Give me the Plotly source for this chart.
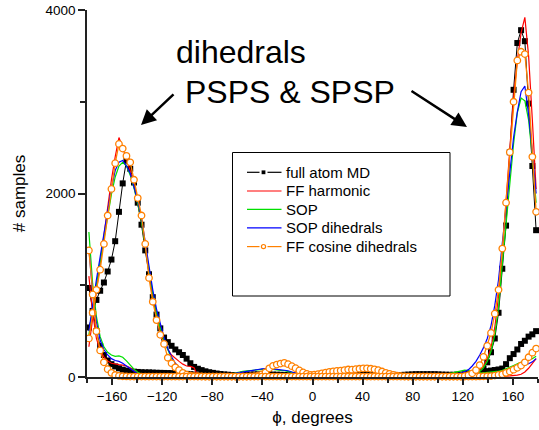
import numpy as np
import plotly.graph_objects as go

# bin centres (3 degree bins)
phi = np.arange(-178.5, 180, 3.0)

# ---------------- full atom MD ----------------
md_p = [540, 700, 840, 940, 1030, 1150, 1280, 1480, 1800, 2110,
        2360, 2270, 2120, 1900, 1660, 1380, 1120, 870, 680, 530,
        430, 380, 340, 300, 270, 240, 200, 150, 110, 90,
        75, 62, 52, 45, 38, 32, 28, 25, 22, 22,
        22, 24, 25, 26, 28, 28, 30, 30, 28, 26,
        25, 24, 22, 20, 18, 16, 15, 15, 14, 15,
        16, 18, 20, 22, 25, 28, 30, 33, 36, 40,
        42, 45, 48, 50, 50, 48, 45, 40, 35, 30,
        26, 24, 22, 22, 24, 26, 28, 30, 30, 30,
        30, 30, 30, 28, 26, 25, 24, 24, 25, 26,
        28, 32, 38, 45, 52, 58, 64, 70, 76, 82,
        92, 140, 205, 250, 300, 360, 395, 440, 465, 500]
md_s = [970, 720, 500, 340, 240, 180, 140, 115, 95, 80,
        70, 62, 58, 55, 52, 50, 50, 48, 46, 45,
        44, 43, 42, 40, 38, 36, 34, 30, 26, 22,
        18, 15, 12, 10, 10, 10, 10, 10, 10, 10,
        10, 10, 10, 10, 10, 10, 10, 10, 10, 10,
        10, 10, 10, 10, 10, 10, 10, 10, 10, 10,
        10, 10, 10, 10, 10, 10, 10, 10, 10, 10,
        10, 10, 10, 10, 10, 10, 10, 10, 10, 10,
        10, 10, 10, 10, 10, 10, 10, 10, 10, 10,
        10, 10, 10, 10, 10, 10, 10, 10, 12, 14,
        15, 20, 26, 35, 50, 90, 160, 270, 420, 700,
        1180, 1650, 2450, 3130, 3640, 3780, 3660, 2980, 2300, 1600]

# ---------------- FF harmonic ----------------
ffh_p = [330, 640, 950, 1250, 1550, 1850, 2150, 2400, 2610, 2500,
         2380, 2250, 2080, 1900, 1700, 1420, 1150, 880, 680, 520,
         400, 300, 240, 200, 170, 140, 120, 115, 100, 5,
         3, 3, 3, 3, 3, 3, 3, 3, 3, 3,
         3, 3, 3, 3, 3, 3, 3, 3, 3, 3,
         3, 3, 3, 3, 3, 3, 3, 3, 3, 3,
         3, 3, 3, 3, 3, 3, 3, 3, 3, 3,
         3, 3, 3, 3, 3, 3, 3, 3, 3, 3,
         3, 3, 3, 3, 3, 3, 3, 3, 3, 3,
         3, 3, 3, 3, 3, 3, 3, 3, 3, 3,
         3, 3, 3, 3, 3, 4, 5, 6, 7, 8,
         9, 10, 12, 15, 20, 30, 55, 95, 145, 200]
ffh_s = [1100, 700, 420, 290, 220, 175, 150, 140, 135, 130,
         120, 100, 70, 40, 20, 10, 5, 3, 3, 3,
         3, 3, 3, 3, 3, 3, 3, 3, 3, 3,
         3, 3, 3, 3, 3, 3, 3, 3, 3, 3,
         3, 3, 3, 3, 3, 3, 3, 3, 3, 3,
         3, 3, 3, 3, 3, 3, 3, 3, 3, 3,
         3, 3, 3, 3, 3, 3, 3, 3, 3, 3,
         3, 3, 3, 3, 3, 3, 3, 3, 3, 3,
         3, 3, 3, 3, 3, 3, 3, 3, 3, 3,
         3, 3, 3, 3, 3, 3, 3, 3, 3, 3,
         5, 10, 20, 40, 70, 120, 200, 320, 540, 880,
         1350, 1900, 2500, 3050, 3450, 3750, 3920, 3500, 2800, 2050]

# ---------------- SOP ----------------
sop_p = [460, 760, 1010, 1260, 1510, 1760, 1990, 2180, 2300, 2340,
         2300, 2200, 2060, 1890, 1690, 1430, 1160, 910, 700, 530,
         400, 290, 200, 140, 90, 55, 30, 18, 12, 10,
         8, 6, 5, 5, 6, 10, 18, 28, 38, 48,
         55, 62, 68, 72, 75, 78, 82, 86, 88, 82,
         74, 72, 70, 62, 50, 36, 24, 14, 8, 5,
         5, 5, 6, 8, 10, 12, 14, 16, 18, 20,
         22, 24, 25, 25, 24, 22, 20, 18, 16, 14,
         12, 10, 10, 10, 10, 12, 14, 16, 18, 20,
         22, 24, 26, 28, 30, 34, 40, 48, 58, 68,
         75, 70, 60, 50, 45, 45, 48, 52, 58, 64,
         72, 88, 105, 125, 145, 165, 178, 186, 200, 225]
sop_s = [1580, 1020, 660, 440, 330, 270, 240, 225, 230, 215,
         175, 125, 85, 52, 30, 16, 10, 6, 5, 4,
         4, 4, 4, 4, 4, 4, 4, 4, 4, 4,
         4, 4, 4, 4, 4, 4, 4, 4, 4, 4,
         4, 4, 4, 4, 4, 4, 4, 4, 4, 4,
         4, 4, 4, 4, 4, 4, 4, 4, 4, 4,
         4, 4, 4, 4, 4, 4, 4, 4, 4, 4,
         4, 4, 4, 4, 4, 4, 4, 4, 4, 4,
         4, 4, 4, 4, 4, 4, 4, 4, 4, 4,
         4, 4, 4, 4, 4, 4, 4, 4, 4, 4,
         8, 12, 20, 35, 60, 100, 170, 280, 460, 760,
         1230, 1680, 2130, 2540, 2880, 3040, 3010, 2800, 2400, 1900]

# ---------------- SOP dihedrals ----------------
sopd_p = [500, 800, 1060, 1310, 1570, 1830, 2060, 2250, 2340, 2360,
          2300, 2220, 2080, 1920, 1730, 1470, 1200, 950, 740, 570,
          430, 310, 220, 150, 100, 60, 35, 20, 12, 8,
          6, 5, 5, 6, 8, 12, 18, 26, 34, 42,
          50, 58, 64, 70, 76, 82, 88, 94, 95, 88,
          82, 80, 76, 68, 55, 40, 26, 15, 8, 5,
          5, 5, 6, 8, 10, 12, 14, 16, 18, 20,
          20, 22, 22, 22, 20, 18, 16, 14, 12, 10,
          10, 10, 10, 10, 10, 12, 14, 16, 18, 20,
          20, 22, 24, 26, 28, 30, 32, 34, 36, 38,
          38, 36, 34, 32, 30, 28, 27, 26, 28, 32,
          45, 60, 75, 90, 100, 110, 128, 145, 165, 200]
sopd_s = [1400, 910, 600, 400, 300, 240, 200, 180, 170, 150,
          120, 90, 60, 35, 20, 10, 6, 4, 4, 4,
          4, 4, 4, 4, 4, 4, 4, 4, 4, 4,
          4, 4, 4, 4, 4, 4, 4, 4, 4, 4,
          4, 4, 4, 4, 4, 4, 4, 4, 4, 4,
          4, 4, 4, 4, 4, 4, 4, 4, 4, 4,
          4, 4, 4, 4, 4, 4, 4, 4, 4, 4,
          4, 4, 4, 4, 4, 4, 4, 4, 4, 4,
          4, 4, 4, 4, 4, 4, 4, 4, 4, 4,
          4, 4, 4, 4, 6, 10, 16, 24, 34, 46,
          60, 80, 120, 170, 240, 320, 420, 560, 780, 1060,
          1460, 1860, 2260, 2610, 2890, 3110, 3170, 2860, 2450, 2000]

# ---------------- FF cosine dihedrals ----------------
ffc_p = [420, 700, 950, 1170, 1450, 1760, 2050, 2330, 2540, 2490,
         2410, 2340, 2150, 1950, 1760, 1450, 1080, 820, 620, 460,
         360, 210, 150, 105, 75, 45, 25, 15, 10, 8,
         6, 5, 5, 5, 5, 5, 5, 5, 5, 5,
         5, 5, 5, 6, 8, 14, 28, 52, 95, 122,
         135, 146, 155, 140, 118, 96, 72, 50, 34, 24,
         26, 32, 40, 48, 56, 62, 66, 70, 76, 82,
         80, 85, 90, 95, 95, 90, 84, 74, 60, 45,
         34, 24, 15, 10, 6, 5, 5, 5, 5, 5,
         5, 5, 5, 5, 5, 5, 5, 5, 5, 5,
         5, 5, 5, 5, 6, 7, 8, 10, 16, 24,
         30, 45, 60, 80, 100, 125, 160, 215, 265, 310]
ffc_s = [1380, 900, 500, 290, 160, 85, 45, 22, 12, 8,
         6, 5, 5, 5, 5, 5, 5, 5, 5, 5,
         5, 5, 5, 5, 5, 5, 5, 5, 5, 5,
         5, 5, 5, 5, 5, 5, 5, 5, 5, 5,
         5, 5, 5, 5, 5, 5, 5, 5, 5, 5,
         5, 5, 5, 5, 5, 5, 5, 5, 5, 5,
         5, 5, 5, 5, 5, 5, 5, 5, 5, 5,
         5, 5, 5, 5, 5, 5, 5, 5, 5, 5,
         5, 5, 5, 5, 5, 5, 5, 5, 5, 5,
         5, 5, 5, 5, 5, 5, 5, 5, 5, 5,
         10, 20, 40, 75, 130, 220, 340, 480, 690, 950,
         1400, 1900, 2450, 3000, 3450, 3545, 3520, 3100, 2400, 1800]

names = ["full atom MD", "FF harmonic", "SOP", "SOP dihedrals", "FF cosine dihedrals"]
colors = ["#000000", "#ff0000", "#00e000", "#0000ff", "#ff8000"]

x_ticks = [-160, -120, -80, -40, 0, 40, 80, 120, 160]
x_minor = [-180, -140, -100, -60, -20, 20, 60, 100, 140, 180]
y_ticks = [0, 2000, 4000]
y_minor = [1000, 3000]

FONT = "Liberation Sans, Arial, sans-serif"

# page geometry helpers (pixel -> paper fraction)
L, R, T, B, W, H = 87, 1, 10, 53, 539, 430
PW, PH = W - L - R, H - T - B


def px(xp):
    return (xp - L) / PW


def py(yp):
    return (H - B - yp) / PH


fig = go.Figure()

series = [(md_p, md_s), (ffh_p, ffh_s), (sop_p, sop_s), (sopd_p, sopd_s), (ffc_p, ffc_s)]
for i, ((p, s), name, col) in enumerate(zip(series, names, colors)):
    for k, arr in enumerate((p, s)):
        if i == 0:
            kw = dict(mode="lines+markers",
                      line=dict(color=col, width=1),
                      marker=dict(symbol="square", size=6, color=col))
        elif i == 4:
            kw = dict(mode="lines+markers",
                      line=dict(color=col, width=1.3),
                      marker=dict(symbol="circle", size=6.5, color="white",
                                  line=dict(color=col, width=1.3)))
        else:
            kw = dict(mode="lines", line=dict(color=col, width=1.2))
        fig.add_trace(go.Scatter(x=phi, y=arr, name=name, showlegend=False,
                                 legendgroup=name, cliponaxis=False, **kw))

fig.update_layout(
    width=W, height=H,
    margin=dict(l=L, r=R, t=T, b=B),
    paper_bgcolor="white", plot_bgcolor="white",
    font=dict(family=FONT, color="black", size=14),
    showlegend=False,
    xaxis=dict(range=[-180, 180], tickvals=x_ticks, ticks="outside", ticklen=6,
               tickwidth=1.5, tickcolor="#222", showline=True, linecolor="#222",
               linewidth=1.5, showgrid=False, zeroline=False,
               tickfont=dict(size=13.5),
               minor=dict(tickvals=x_minor, ticks="outside", ticklen=4,
                          tickwidth=1.5, tickcolor="#222", showgrid=False),
               title=dict(text="ϕ, degrees", font=dict(size=17), standoff=8)),
    yaxis=dict(range=[0, 4000], tickvals=y_ticks, ticks="outside", ticklen=7,
               tickwidth=1.5, tickcolor="#222", showline=True, linecolor="#222",
               linewidth=1.5, showgrid=False, zeroline=False,
               tickfont=dict(size=13.5),
               minor=dict(tickvals=y_minor, ticks="outside", ticklen=5,
                          tickwidth=1.5, tickcolor="#222", showgrid=False),
               title=dict(text="# samples", font=dict(size=17), standoff=16)),
)

# ---- legend (frame, samples and labels) ----
fig.add_shape(type="rect", xref="paper", yref="paper",
              x0=px(232.5), x1=px(450), y0=py(296), y1=py(152.5),
              line=dict(color="black", width=1), fillcolor="rgba(0,0,0,0)")
row_y = [172.3, 191.0, 209.4, 227.8, 246.6]
for i, (name, col, ry) in enumerate(zip(names, colors, row_y)):
    if i in (0, 4):
        for a, b in ((247, 259.5), (267.5, 281.5)):
            fig.add_shape(type="line", xref="paper", yref="paper",
                          x0=px(a), x1=px(b), y0=py(ry), y1=py(ry),
                          line=dict(color=col, width=1.2))
        if i == 0:
            fig.add_shape(type="rect", xref="paper", yref="paper",
                          x0=px(261.6), x1=px(265.4), y0=py(ry + 1.9), y1=py(ry - 1.9),
                          line=dict(width=0), fillcolor=col)
        else:
            fig.add_shape(type="circle", xref="paper", yref="paper",
                          x0=px(261.4), x1=px(265.6), y0=py(ry + 2.1), y1=py(ry - 2.1),
                          line=dict(color=col, width=1.2), fillcolor="white")
    else:
        fig.add_shape(type="line", xref="paper", yref="paper",
                      x0=px(247), x1=px(281.5), y0=py(ry), y1=py(ry),
                      line=dict(color=col, width=1.2))
    fig.add_annotation(text=name, xref="paper", yref="paper", x=px(284), y=py(ry),
                       xanchor="left", yanchor="middle", showarrow=False,
                       font=dict(size=15, family=FONT))

# ---- labels and arrows ----
fig.add_annotation(text="dihedrals", xref="paper", yref="paper", x=px(241), y=py(52),
                   xanchor="center", yanchor="middle",
                   showarrow=False, font=dict(size=32, family=FONT))
fig.add_annotation(text="PSPS & SPSP", xref="paper", yref="paper", x=px(290), y=py(92),
                   xanchor="center", yanchor="middle",
                   showarrow=False, font=dict(size=32, family=FONT))
fig.add_annotation(text="", xref="paper", yref="paper", x=px(141), y=py(125),
                   ax=34, ay=-32, showarrow=True, arrowhead=2, arrowsize=1.2,
                   arrowwidth=2.5, arrowcolor="black")
fig.add_annotation(text="", xref="paper", yref="paper", x=px(467), y=py(127),
                   ax=-57, ay=-37, showarrow=True, arrowhead=2, arrowsize=1.2,
                   arrowwidth=2.5, arrowcolor="black")

fig.write_html("out.html")
